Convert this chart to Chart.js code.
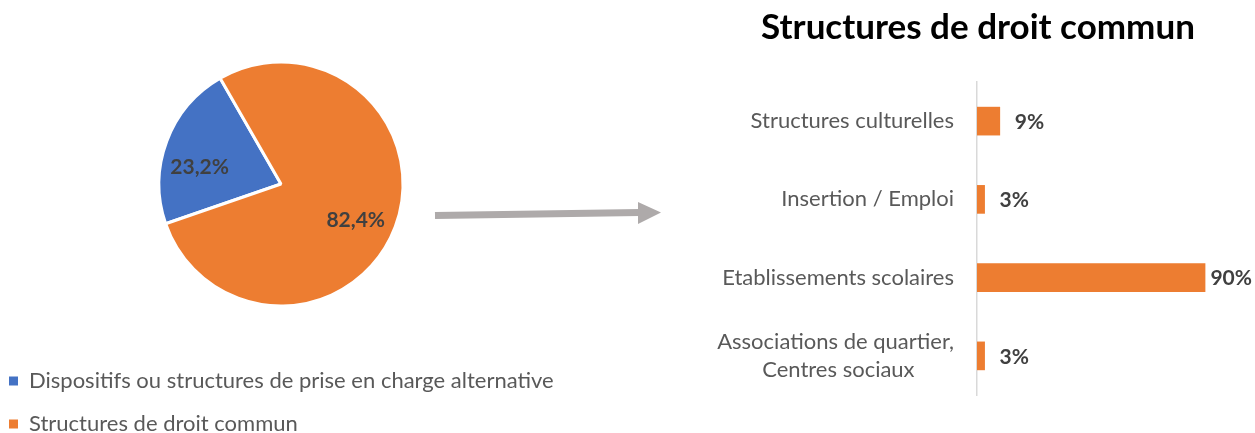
<!DOCTYPE html>
<html>
<head>
<meta charset="utf-8">
<script src="https://cdn.jsdelivr.net/npm/chart.js@4"></script>
<style>
  body { margin: 0; background: #fff; overflow: hidden; width: 1255px; height: 433px; position: relative; }
  #pieWrap { position: absolute; left: -12px; top: 0; width: 680px; height: 445px; }
  #barWrap { position: absolute; left: 680px; top: 0; width: 596px; height: 433px; }
</style>
</head>
<body>
<div id="pieWrap"><canvas id="pieChart"></canvas></div>
<div id="barWrap"><canvas id="barChart"></canvas></div>
<script>
// pie data
var pieLabels = ['Dispositifs ou structures de prise en charge alternative', 'Structures de droit commun'];
var pieValues = [23.2, 82.4];
var pieText = ['23,2%', '82,4%'];
var pieColors = ['#4472C4', '#ED7D31'];

// bar data
var barLabels = ['Structures culturelles', 'Insertion / Emploi', 'Etablissements scolaires', ['Associations de quartier,', 'Centres sociaux       ']];
var barValues = [9, 3, 90, 3];
var barTitle = 'Structures de droit commun';
var barMax = 118;

var fontName = 'Lato, sans-serif';

// labels inside pie slices (small angle nudge like Excel's best fit)
var labelNudge = [-0.16, 0.09];
var pieLabelPlugin = {
  id: 'pieLabels',
  afterDatasetsDraw: function(chart) {
    var c = chart.ctx;
    var arcs = chart.getDatasetMeta(0).data;
    c.save();
    c.font = 'bold 21px ' + fontName;
    c.fillStyle = '#404040';
    c.textAlign = 'center';
    c.textBaseline = 'middle';
    arcs.forEach(function(a, i) {
      var mid = (a.startAngle + a.endAngle) / 2 + labelNudge[i];
      var r = a.outerRadius * 0.68;
      c.fillText(pieText[i], a.x + Math.cos(mid) * r, a.y + Math.sin(mid) * r);
    });
    c.restore();
  }
};

// grey arrow from pie to bar chart
var arrowPlugin = {
  id: 'arrow',
  afterDraw: function(chart) {
    var c = chart.ctx;
    var off = 12; // canvas is shifted 12px left
    c.save();
    c.strokeStyle = '#AEAAAA';
    c.fillStyle = '#AEAAAA';
    c.lineWidth = 7;
    c.beginPath();
    c.moveTo(435 + off, 215.5);
    c.lineTo(640 + off, 212.5);
    c.stroke();
    c.beginPath();
    c.moveTo(638 + off, 202);
    c.lineTo(661 + off, 212.5);
    c.lineTo(638 + off, 224);
    c.closePath();
    c.fill();
    c.restore();
  }
};

new Chart(document.getElementById('pieChart'), {
  type: 'pie',
  data: {
    labels: pieLabels,
    datasets: [{
      data: pieValues,
      backgroundColor: pieColors,
      borderColor: '#ffffff',
      borderWidth: 3,
      radius: 122
    }]
  },
  options: {
    responsive: true,
    maintainAspectRatio: false,
    animation: false,
    rotation: 251,
    layout: { padding: { top: 19, right: 94 } },
    plugins: {
      tooltip: { enabled: false },
      legend: {
        position: 'bottom',
        align: 'start',
        labels: {
          boxWidth: 9,
          boxHeight: 9,
          padding: 21,
          color: '#595959',
          font: { family: fontName, size: 22 },
          generateLabels: function(chart) {
            return Chart.overrides.pie.plugins.legend.labels.generateLabels(chart).map(function(l) {
              l.lineWidth = 0;
              l.strokeStyle = 'rgba(0,0,0,0)';
              return l;
            });
          }
        }
      }
    }
  },
  plugins: [pieLabelPlugin, arrowPlugin]
});

// value labels right of bars, kept inside the visible page
var visibleWidth = 575;
var barLabelPlugin = {
  id: 'barLabels',
  afterDatasetsDraw: function(chart) {
    var c = chart.ctx;
    var bars = chart.getDatasetMeta(0).data;
    c.save();
    c.font = 'bold 21px ' + fontName;
    c.fillStyle = '#404040';
    c.textAlign = 'left';
    c.textBaseline = 'middle';
    bars.forEach(function(b, i) {
      var t = barValues[i] + '%';
      var w = c.measureText(t).width;
      var x = Math.min(b.x + 15, visibleWidth - w - 3);
      c.fillText(t, x, b.y + 1);
    });
    c.restore();
  }
};

new Chart(document.getElementById('barChart'), {
  type: 'bar',
  data: {
    labels: barLabels,
    datasets: [{
      data: barValues,
      backgroundColor: '#ED7D31',
      barThickness: 28
    }]
  },
  options: {
    indexAxis: 'y',
    responsive: true,
    maintainAspectRatio: false,
    animation: false,
    layout: { padding: { bottom: 38 } },
    scales: {
      x: { display: false, min: 0, max: barMax },
      y: {
        afterFit: function(scale) { scale.width = 297; },
        grid: { display: true, color: 'rgba(0,0,0,0)', drawTicks: false },
        border: { display: true, color: '#D9D9D9', width: 1.5 },
        ticks: {
          padding: 23,
          color: '#595959',
          font: { family: fontName, size: 22, lineHeight: 1.25 }
        }
      }
    },
    plugins: {
      tooltip: { enabled: false },
      legend: { display: false },
      title: {
        display: true,
        text: barTitle,
        color: '#000000',
        font: { family: fontName, size: 35, weight: 'bold' },
        padding: { top: 7, bottom: 33 }
      }
    }
  },
  plugins: [barLabelPlugin]
});
</script>
</body>
</html>
